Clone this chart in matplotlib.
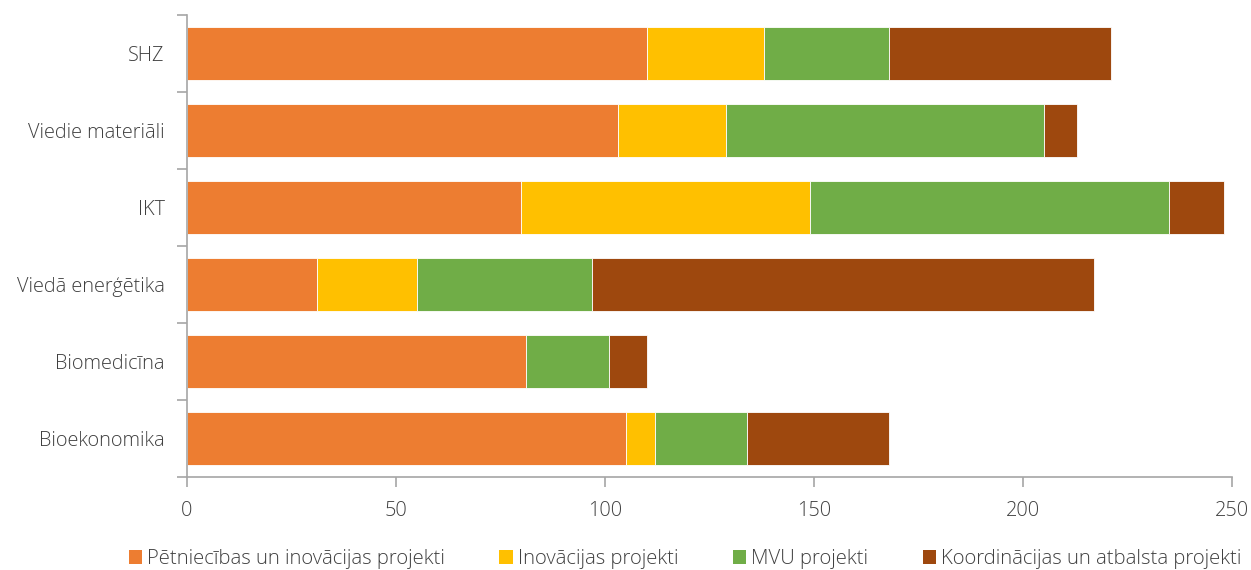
import matplotlib
matplotlib.use("Agg")
import matplotlib.pyplot as plt
import numpy as np

plt.rcParams['font.family'] = ['Open Sans', 'DejaVu Sans']
plt.rcParams['font.weight'] = 'light'

categories = ["Bioekonomika", "Biomedicīna", "Viedā enerģētika", "IKT", "Viedie materiāli", "SHZ"]
series_names = ["Pētniecības un inovācijas projekti", "Inovācijas projekti", "MVU projekti",
                "Koordinācijas un atbalsta projekti"]
pi_proj = [105, 81, 31, 80, 103, 110]
inov_proj = [7, 0, 24, 69, 26, 28]
mvu_proj = [22, 20, 42, 86, 76, 30]
koord_proj = [34, 9, 120, 13, 8, 53]
colors = ["#ED7D31", "#FFC000", "#70AD47", "#9E480E"]
xticks = [0, 50, 100, 150, 200, 250]

fig = plt.figure(figsize=(12.51, 5.70), dpi=100)
ax = fig.add_axes([187/1251, 1 - 477/570, (1232-187)/1251, (477-15)/570])

y = np.arange(len(categories))
left = np.zeros(len(categories))
for vals, name, c in zip([pi_proj, inov_proj, mvu_proj, koord_proj], series_names, colors):
    v = np.array(vals, dtype=float)
    ax.barh(y, v, left=left, height=0.7, color=c, edgecolor='white', linewidth=0.6, label=name)
    left += v

ax.set_xlim(0, 250)
ax.set_ylim(-0.5, len(categories) - 0.5)
ax.set_xticks(xticks)
ax.set_xticklabels([str(t) for t in xticks])
ax.set_yticks(y)
ax.set_yticklabels(categories)
ax.set_yticks(np.arange(-0.5, len(categories)), minor=True)

for s in ['top', 'right']:
    ax.spines[s].set_visible(False)
for s in ['left', 'bottom']:
    ax.spines[s].set_color('#a6a6a6')
    ax.spines[s].set_linewidth(1.2)

tc = '#404040'
ax.tick_params(axis='y', which='major', length=0, pad=16, labelsize=14.3, labelcolor=tc)
ax.tick_params(axis='y', which='minor', length=7, color='#a6a6a6', width=1.2, direction='out')
ax.tick_params(axis='x', length=7, color='#a6a6a6', width=1.2, labelsize=14.3, labelcolor=tc, pad=10)

handles, labels = ax.get_legend_handles_labels()
leg = fig.legend(handles, labels, loc='center', bbox_to_anchor=(0.5476, 1 - 559/570), ncol=4,
                 frameon=False, fontsize=14.6, handlelength=0.65, handleheight=0.65,
                 handletextpad=0.25, columnspacing=2.7, labelcolor=tc)
for h in leg.legend_handles:
    h.set_edgecolor('none')

fig.savefig("out.png", dpi=100)
